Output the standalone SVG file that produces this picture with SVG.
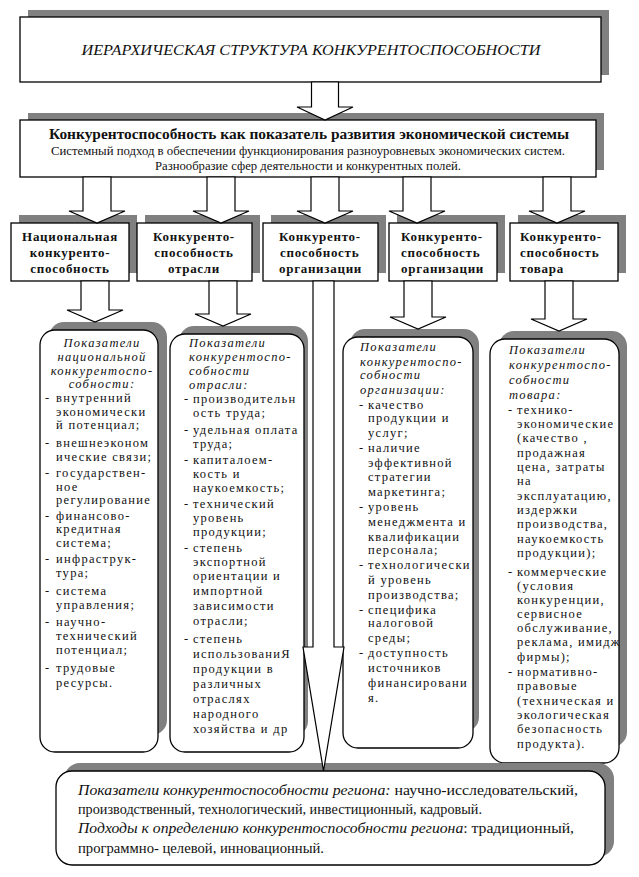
<svg xmlns="http://www.w3.org/2000/svg" width="639" height="877" viewBox="0 0 639 877">
<style>
.bg{fill:#fff}
.sh{fill:#808080}
.bx{fill:#fff;stroke:#000;stroke-width:1.3}
.ar{fill:#fff;stroke:#000;stroke-width:1.2;stroke-linejoin:miter}
text{font-family:"Liberation Serif","DejaVu Serif","Times New Roman",serif;fill:#111}
.tt{font-size:15px;font-style:italic}
.b1{font-size:15px;font-weight:bold}
.b2{font-size:11.5px}
.hd{font-size:13px;font-weight:bold;letter-spacing:0.7px}
.ct{font-size:12.5px;letter-spacing:1.3px}
.it{font-style:italic}
.bt{font-size:14px}
</style>
<rect class="bg" x="0" y="0" width="639" height="877"/>

<g id="title">
<rect class="sh" x="28" y="10" width="581" height="65"/>
<rect class="bx" x="20" y="17" width="581" height="65"/>
<text class="tt" x="311" y="55" text-anchor="middle" textLength="459" lengthAdjust="spacingAndGlyphs" font-family="Liberation Serif, DejaVu Serif, serif">ИЕРАРХИЧЕСКАЯ СТРУКТУРА КОНКУРЕНТОСПОСОБНОСТИ</text>
</g>

<g id="system">
<rect class="sh" x="28" y="113" width="576" height="57"/>
<rect class="bx" x="20" y="120" width="576" height="57"/>
<text class="b1" x="309" y="139" text-anchor="middle" textLength="520" lengthAdjust="spacingAndGlyphs">Конкурентоспособность как показатель развития экономической системы</text>
<text class="b2" x="308" y="155" text-anchor="middle" textLength="514" lengthAdjust="spacingAndGlyphs">Системный подход в обеспечении функционирования разноуровневых экономических систем.</text>
<text class="b2" x="308" y="170" text-anchor="middle" textLength="306" lengthAdjust="spacingAndGlyphs">Разнообразие сфер деятельности и конкурентных полей.</text>
</g>

<g id="h1">
<rect class="sh" x="19" y="215" width="118" height="58"/>
<rect class="bx" x="11" y="223" width="118" height="58"/>
<text class="hd" text-anchor="middle"><tspan x="70" y="241">Национальная</tspan><tspan x="70" y="257">конкуренто-</tspan><tspan x="70" y="273">способность</tspan></text>
</g>
<g id="h2">
<rect class="sh" x="145" y="215" width="115" height="58"/>
<rect class="bx" x="137" y="223" width="115" height="58"/>
<text class="hd" text-anchor="middle"><tspan x="194" y="241">Конкуренто-</tspan><tspan x="194" y="257">способность</tspan><tspan x="194" y="273">отрасли</tspan></text>
</g>
<g id="h3">
<rect class="sh" x="271" y="215" width="115" height="58"/>
<rect class="bx" x="263" y="223" width="115" height="58"/>
<text class="hd"><tspan x="279" y="241">Конкуренто-</tspan><tspan x="280" y="257">способность</tspan><tspan x="279" y="273">организации</tspan></text>
</g>
<g id="h4">
<rect class="sh" x="397" y="215" width="108" height="58"/>
<rect class="bx" x="389" y="223" width="108" height="58"/>
<text class="hd"><tspan x="401" y="241">Конкуренто-</tspan><tspan x="401" y="257">способность</tspan><tspan x="401" y="273">организации</tspan></text>
</g>
<g id="h5">
<rect class="sh" x="518" y="215" width="108" height="58"/>
<rect class="bx" x="510" y="223" width="108" height="58"/>
<text class="hd"><tspan x="520" y="241">Конкуренто-</tspan><tspan x="520" y="257">способность</tspan><tspan x="520" y="273">товара</tspan></text>
</g>

<g id="colA">
<rect class="sh" x="49" y="322" width="118" height="413" rx="15"/>
<rect class="bx" x="40" y="330" width="118" height="422" rx="15"/>
<text class="ct it" text-anchor="middle"><tspan x="102" y="347">Показатели</tspan><tspan x="102" y="361">национальной</tspan><tspan x="102" y="375">конкурентоспо-</tspan><tspan x="102" y="388">собности:</tspan></text>
<text class="ct"><tspan x="45" y="402">-</tspan><tspan x="45" y="447">-</tspan><tspan x="45" y="477">-</tspan><tspan x="45" y="520">-</tspan><tspan x="45" y="563">-</tspan><tspan x="45" y="595">-</tspan><tspan x="45" y="626">-</tspan><tspan x="45" y="672">-</tspan></text>
<text class="ct"><tspan x="56" y="402">внутренний</tspan><tspan x="56" y="416">экономически</tspan><tspan x="56" y="429">й потенциал;</tspan><tspan x="56" y="447">внешнеэконом</tspan><tspan x="56" y="461">ические связи;</tspan><tspan x="56" y="477">государствен-</tspan><tspan x="56" y="491">ное</tspan><tspan x="56" y="504">регулирование</tspan><tspan x="56" y="520">финансово-</tspan><tspan x="56" y="533">кредитная</tspan><tspan x="56" y="547">система;</tspan><tspan x="56" y="563">инфраструк-</tspan><tspan x="56" y="577">тура;</tspan><tspan x="56" y="595">система</tspan><tspan x="56" y="609">управления;</tspan><tspan x="56" y="626">научно-</tspan><tspan x="56" y="640">технический</tspan><tspan x="56" y="654">потенциал;</tspan><tspan x="56" y="672">трудовые</tspan><tspan x="56" y="687">ресурсы.</tspan></text>
</g>

<g id="colB">
<rect class="sh" x="179" y="326" width="129" height="410" rx="15"/>
<rect class="bx" x="170" y="334" width="134" height="418" rx="15"/>
<text class="ct it"><tspan x="189" y="347">Показатели</tspan><tspan x="189" y="361">конкурентоспо-</tspan><tspan x="189" y="375">собности</tspan><tspan x="189" y="389">отрасли:</tspan></text>
<text class="ct"><tspan x="184" y="403">-</tspan><tspan x="184" y="434">-</tspan><tspan x="184" y="464">-</tspan><tspan x="184" y="508">-</tspan><tspan x="184" y="552">-</tspan><tspan x="184" y="643">-</tspan></text>
<text class="ct"><tspan x="193" y="403">производительн</tspan><tspan x="193" y="417">ость труда;</tspan><tspan x="193" y="434">удельная оплата</tspan><tspan x="193" y="448">труда;</tspan><tspan x="193" y="464">капиталоем-</tspan><tspan x="193" y="478">кость и</tspan><tspan x="193" y="492">наукоемкость;</tspan><tspan x="193" y="508">технический</tspan><tspan x="193" y="522">уровень</tspan><tspan x="193" y="536">продукции;</tspan><tspan x="193" y="552">степень</tspan><tspan x="193" y="566">экспортной</tspan><tspan x="193" y="580">ориентации и</tspan><tspan x="193" y="595">импортной</tspan><tspan x="193" y="610">зависимости</tspan><tspan x="193" y="625">отрасли;</tspan><tspan x="193" y="643">степень</tspan><tspan x="193" y="658">использованиЯ</tspan><tspan x="193" y="673">продукции в</tspan><tspan x="193" y="688">различных</tspan><tspan x="193" y="703">отраслях</tspan><tspan x="193" y="718">народного</tspan><tspan x="193" y="733">хозяйства и др</tspan></text>
</g>

<g id="colD">
<rect class="sh" x="350" y="329" width="129" height="403" rx="15"/>
<rect class="bx" x="343" y="337" width="130" height="411" rx="15"/>
<text class="ct it"><tspan x="360" y="351">Показатели</tspan><tspan x="360" y="366">конкурентоспо-</tspan><tspan x="360" y="379">собности</tspan><tspan x="360" y="394">организации:</tspan></text>
<text class="ct"><tspan x="359" y="409">-</tspan><tspan x="359" y="452">-</tspan><tspan x="359" y="511">-</tspan><tspan x="359" y="569">-</tspan><tspan x="359" y="614">-</tspan><tspan x="359" y="657">-</tspan></text>
<text class="ct"><tspan x="368" y="409">качество</tspan><tspan x="368" y="422">продукции и</tspan><tspan x="368" y="437">услуг;</tspan><tspan x="368" y="452">наличие</tspan><tspan x="368" y="467">эффективной</tspan><tspan x="368" y="481">стратегии</tspan><tspan x="368" y="496">маркетинга;</tspan><tspan x="368" y="511">уровень</tspan><tspan x="368" y="526">менеджмента и</tspan><tspan x="368" y="541">квалификации</tspan><tspan x="368" y="554">персонала;</tspan><tspan x="368" y="569">технологически</tspan><tspan x="368" y="584">й уровень</tspan><tspan x="368" y="599">производства;</tspan><tspan x="368" y="614">специфика</tspan><tspan x="368" y="627">налоговой</tspan><tspan x="368" y="642">среды;</tspan><tspan x="368" y="657">доступность</tspan><tspan x="368" y="672">источников</tspan><tspan x="368" y="687">финансировани</tspan><tspan x="368" y="702">я.</tspan></text>
</g>

<g id="colE">
<rect class="sh" x="499" y="331" width="128" height="416" rx="15"/>
<rect class="bx" x="490" y="339" width="129" height="424" rx="15"/>
<text class="ct it"><tspan x="509" y="354">Показатели</tspan><tspan x="509" y="369">конкурентоспо-</tspan><tspan x="509" y="384">собности</tspan><tspan x="509" y="399">товара:</tspan></text>
<text class="ct"><tspan x="508" y="414">-</tspan><tspan x="508" y="576">-</tspan><tspan x="508" y="676">-</tspan></text>
<text class="ct"><tspan x="517" y="414">технико-</tspan><tspan x="517" y="428">экономические</tspan><tspan x="517" y="442">(качество ,</tspan><tspan x="517" y="457">продажная</tspan><tspan x="517" y="471">цена, затраты</tspan><tspan x="517" y="485">на</tspan><tspan x="517" y="500">эксплуатацию,</tspan><tspan x="517" y="514">издержки</tspan><tspan x="517" y="528">производства,</tspan><tspan x="517" y="543">наукоемкость</tspan><tspan x="517" y="557">продукции);</tspan><tspan x="517" y="576">коммерческие</tspan><tspan x="517" y="590">(условия</tspan><tspan x="517" y="604">конкуренции,</tspan><tspan x="517" y="618">сервисное</tspan><tspan x="517" y="632">обслуживание,</tspan><tspan x="517" y="646">реклама, имидж</tspan><tspan x="517" y="661">фирмы);</tspan><tspan x="517" y="676">нормативно-</tspan><tspan x="517" y="690">правовые</tspan><tspan x="517" y="705">(техническая и</tspan><tspan x="517" y="719">экологическая</tspan><tspan x="517" y="733">безопасность</tspan><tspan x="517" y="748">продукта).</tspan></text>
</g>

<g id="region">
<rect class="sh" x="64" y="763" width="550" height="94" rx="16"/>
<rect class="bx" x="56" y="771" width="549" height="94" rx="16"/>
<text class="bt" x="78" y="795" textLength="500" lengthAdjust="spacingAndGlyphs"><tspan class="it">Показатели конкурентоспособности региона:</tspan> научно-исследовательский,</text>
<text class="bt" x="78" y="814" textLength="404" lengthAdjust="spacingAndGlyphs">производственный, технологический, инвестиционный, кадровый.</text>
<text class="bt" x="78" y="833" textLength="496" lengthAdjust="spacingAndGlyphs"><tspan class="it">Подходы к определению конкурентоспособности региона</tspan>: традиционный,</text>
<text class="bt" x="78" y="853" textLength="246" lengthAdjust="spacingAndGlyphs">программно- целевой, инновационный.</text>
</g>

<g id="connectors">
<polygon class="ar" points="311.5,82 338.5,82 338.5,107 353,107 325,120 297,107 311.5,107"/>
<polygon class="ar" points="83,177 111,177 111,211 125,211 97,223 69,211 83,211"/>
<polygon class="ar" points="207,177 235,177 235,211 249,211 221,223 193,211 207,211"/>
<polygon class="ar" points="311,177 339,177 339,211 353,211 325,223 297,211 311,211"/>
<polygon class="ar" points="403,177 431,177 431,211 445,211 417,223 389,211 403,211"/>
<polygon class="ar" points="543,177 571,177 571,211 585,211 557,223 529,211 543,211"/>
<polygon class="ar" points="81,281 109,281 109,310 123,310 95,322 67,310 81,310"/>
<polygon class="ar" points="209,281 237,281 237,314 251,314 223,326 195,314 209,314"/>
<polygon class="ar" points="404,281 432,281 432,317 446,317 418,329 390,317 404,317"/>
<polygon class="ar" points="545,281 573,281 573,319 587,319 559,331 531,319 545,319"/>
<polygon class="ar" points="313,281 334,281 334,647 344,647 323.5,771 303,647 313,647"/>
</g>
</svg>
